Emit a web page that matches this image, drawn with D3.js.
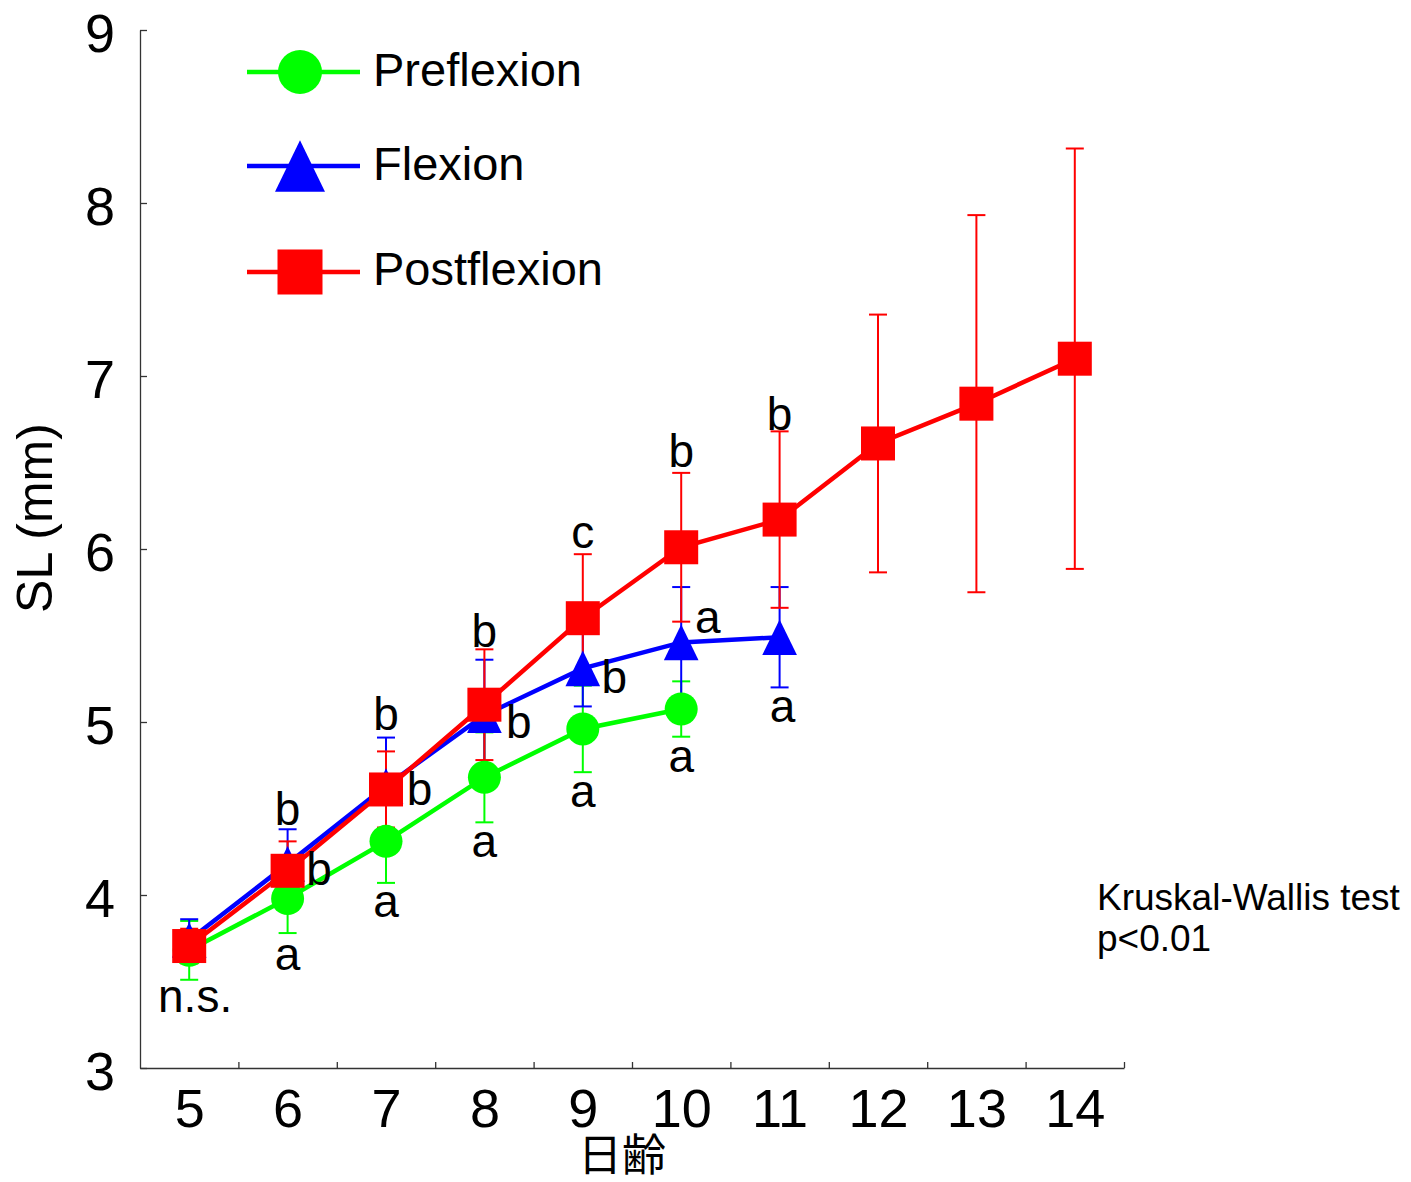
<!DOCTYPE html>
<html>
<head>
<meta charset="utf-8">
<script src="https://cdn.jsdelivr.net/npm/d3@7"></script>
<style>
  body { margin: 0; background: #fff; }
  text { font-family: "Liberation Sans", Arial, sans-serif; fill: #000; }
</style>
</head>
<body>
<div id="chart"></div>
<script>
// days (x categories)
var days = [5, 6, 7, 8, 9, 10, 11, 12, 13, 14];
var yTicks = [3, 4, 5, 6, 7, 8, 9];

// Preflexion: days 5-10
var preDays = [5, 6, 7, 8, 9, 10];
var preMean = [3.68, 3.98, 4.31, 4.68, 4.96, 5.075];
var preSd   = [0.17, 0.20, 0.24, 0.26, 0.25, 0.16];

// Flexion: days 5-11
var flexDays = [5, 6, 7, 8, 9, 10, 11];
var flexMean = [3.74, 4.18, 4.63, 5.04, 5.31, 5.46, 5.49];
var flexSd   = [0.12, 0.20, 0.28, 0.32, 0.22, 0.32, 0.29];

// Postflexion: days 5-14
var postDays = [5, 6, 7, 8, 9, 10, 11, 12, 13, 14];
var postMean = [3.705, 4.14, 4.61, 5.10, 5.60, 6.01, 6.17, 6.61, 6.84, 7.10];
var postSd   = [0.10, 0.17, 0.22, 0.32, 0.37, 0.43, 0.51, 0.745, 1.09, 1.215];

// significance letters (day, text, SL value of baseline, shift in days)
var sigDays  = [5, 6, 6, 6, 7, 7, 7, 8, 8, 8, 9, 9, 9, 10, 10, 10, 11, 11];
var sigText  = ["n.s.", "b", "b", "a", "b", "b", "a", "b", "b", "a", "c", "b", "a", "b", "a", "a", "b", "a"];
var sigValue = [3.324, 4.405, 4.058, 3.566, 4.954, 4.520, 3.873, 5.434, 4.908, 4.220, 6.006, 5.168, 4.509, 6.474, 5.514, 4.711, 6.688, 5.0];
var sigShift = [0.06, 0, 0.32, 0, 0, 0.34, 0, 0, 0.35, 0, 0, 0.32, 0, 0, 0.27, 0, 0, 0.03];

var W = 1411, H = 1182;

var svg = d3.select("#chart")
    .append("svg")
    .attr("width", W)
    .attr("height", H);

var x = d3.scaleLinear().domain([4.5, 14.5]).range([140, 1124]);
var y = d3.scaleLinear().domain([3, 9]).range([1068, 30]);

// axes
var yAxis = svg.append("g")
    .attr("transform", "translate(" + x.range()[0] + ",0)")
    .call(d3.axisLeft(y).tickValues(yTicks).tickFormat(d3.format("d"))
        .tickSize(-7).tickSizeOuter(0).tickPadding(25));
yAxis.selectAll("text").attr("font-size", 54).attr("dy", "0.4em");

var xAxis = svg.append("g")
    .attr("transform", "translate(0," + y(3) + ")")
    .call(d3.axisBottom(x).tickValues(days).tickSize(0).tickPadding(21));
xAxis.selectAll("text").attr("font-size", 54);

svg.append("g")
    .attr("transform", "translate(0," + y(3) + ")")
    .call(d3.axisBottom(x).tickValues(days.map(function (d) { return d + 0.5; }))
        .tickSize(-6).tickSizeOuter(0).tickFormat(""))
    .select(".domain").remove();

svg.selectAll(".domain, .tick line").attr("stroke", "#333").attr("stroke-width", 1.3);

// axis titles
svg.append("text")
    .attr("transform", "translate(52,518) rotate(-90)")
    .attr("text-anchor", "middle")
    .attr("font-size", 50)
    .text("SL (mm)");

svg.append("text")
    .attr("x", 622)
    .attr("y", 1171)
    .attr("text-anchor", "middle")
    .attr("font-size", 44)
    .style("font-family", '"Noto Sans CJK JP", sans-serif')
    .text("日齢");

// series
function rows(ds, ms, ss) {
    return ds.map(function (d, i) { return { day: d, mean: ms[i], sd: ss[i] }; });
}

var series = [
    { name: "Preflexion", color: "#00ff00", shape: "circle", data: rows(preDays, preMean, preSd) },
    { name: "Flexion", color: "#0000ff", shape: "triangle", data: rows(flexDays, flexMean, flexSd) },
    { name: "Postflexion", color: "#ff0000", shape: "square", data: rows(postDays, postMean, postSd) }
];

var line = d3.line()
    .x(function (d) { return x(d.day); })
    .y(function (d) { return y(d.mean); });

function drawMarker(g, shape, color, size) {
    if (shape === "circle") {
        g.append("circle").attr("r", size / 2).attr("fill", color);
    } else if (shape === "square") {
        g.append("rect")
            .attr("x", -size / 2).attr("y", -size / 2)
            .attr("width", size).attr("height", size)
            .attr("fill", color);
    } else {
        var w = size * 1.02, h = size * 1.05;
        g.append("path")
            .attr("d", "M0," + (-h / 2) + "L" + (w / 2) + "," + (h / 2) + "L" + (-w / 2) + "," + (h / 2) + "Z")
            .attr("fill", color);
    }
}

// lines
series.forEach(function (s) {
    svg.append("path")
        .datum(s.data)
        .attr("fill", "none")
        .attr("stroke", s.color)
        .attr("stroke-width", 4.5)
        .attr("d", line);
});

// error bars
series.forEach(function (s) {
    var eb = svg.append("g").attr("stroke", s.color).attr("stroke-width", 2);
    s.data.forEach(function (d) {
        var cx = x(d.day);
        eb.append("line")
            .attr("x1", cx).attr("x2", cx)
            .attr("y1", y(d.mean - d.sd)).attr("y2", y(d.mean + d.sd));
        [d.mean - d.sd, d.mean + d.sd].forEach(function (v) {
            eb.append("line")
                .attr("x1", cx - 9).attr("x2", cx + 9)
                .attr("y1", y(v)).attr("y2", y(v));
        });
    });
});

// markers
series.forEach(function (s) {
    s.data.forEach(function (d) {
        var g = svg.append("g").attr("transform", "translate(" + x(d.day) + "," + y(d.mean) + ")");
        drawMarker(g, s.shape, s.color, s.shape === "circle" ? 33 : 34);
    });
});

// significance letters
sigDays.forEach(function (d, i) {
    svg.append("text")
        .attr("x", x(d + sigShift[i]))
        .attr("y", y(sigValue[i]))
        .attr("text-anchor", "middle")
        .attr("font-size", 46)
        .text(sigText[i]);
});

// legend
var legY = [72, 166, 272];
var legTextY = [86, 180, 285];
series.forEach(function (s, i) {
    var lg = svg.append("g");
    lg.append("line")
        .attr("x1", 247).attr("x2", 360)
        .attr("y1", legY[i]).attr("y2", legY[i])
        .attr("stroke", s.color).attr("stroke-width", 4.5);
    var m = lg.append("g").attr("transform", "translate(300," + legY[i] + ")");
    drawMarker(m, s.shape, s.color, s.shape === "circle" ? 44 : (s.shape === "square" ? 45 : 49));
    lg.append("text")
        .attr("x", 373).attr("y", legTextY[i])
        .attr("font-size", 47)
        .text(s.name);
});

// test note
svg.append("text").attr("x", 1097).attr("y", 910).attr("font-size", 37).text("Kruskal-Wallis test");
svg.append("text").attr("x", 1097).attr("y", 951).attr("font-size", 37).text("p<0.01");
</script>
</body>
</html>
